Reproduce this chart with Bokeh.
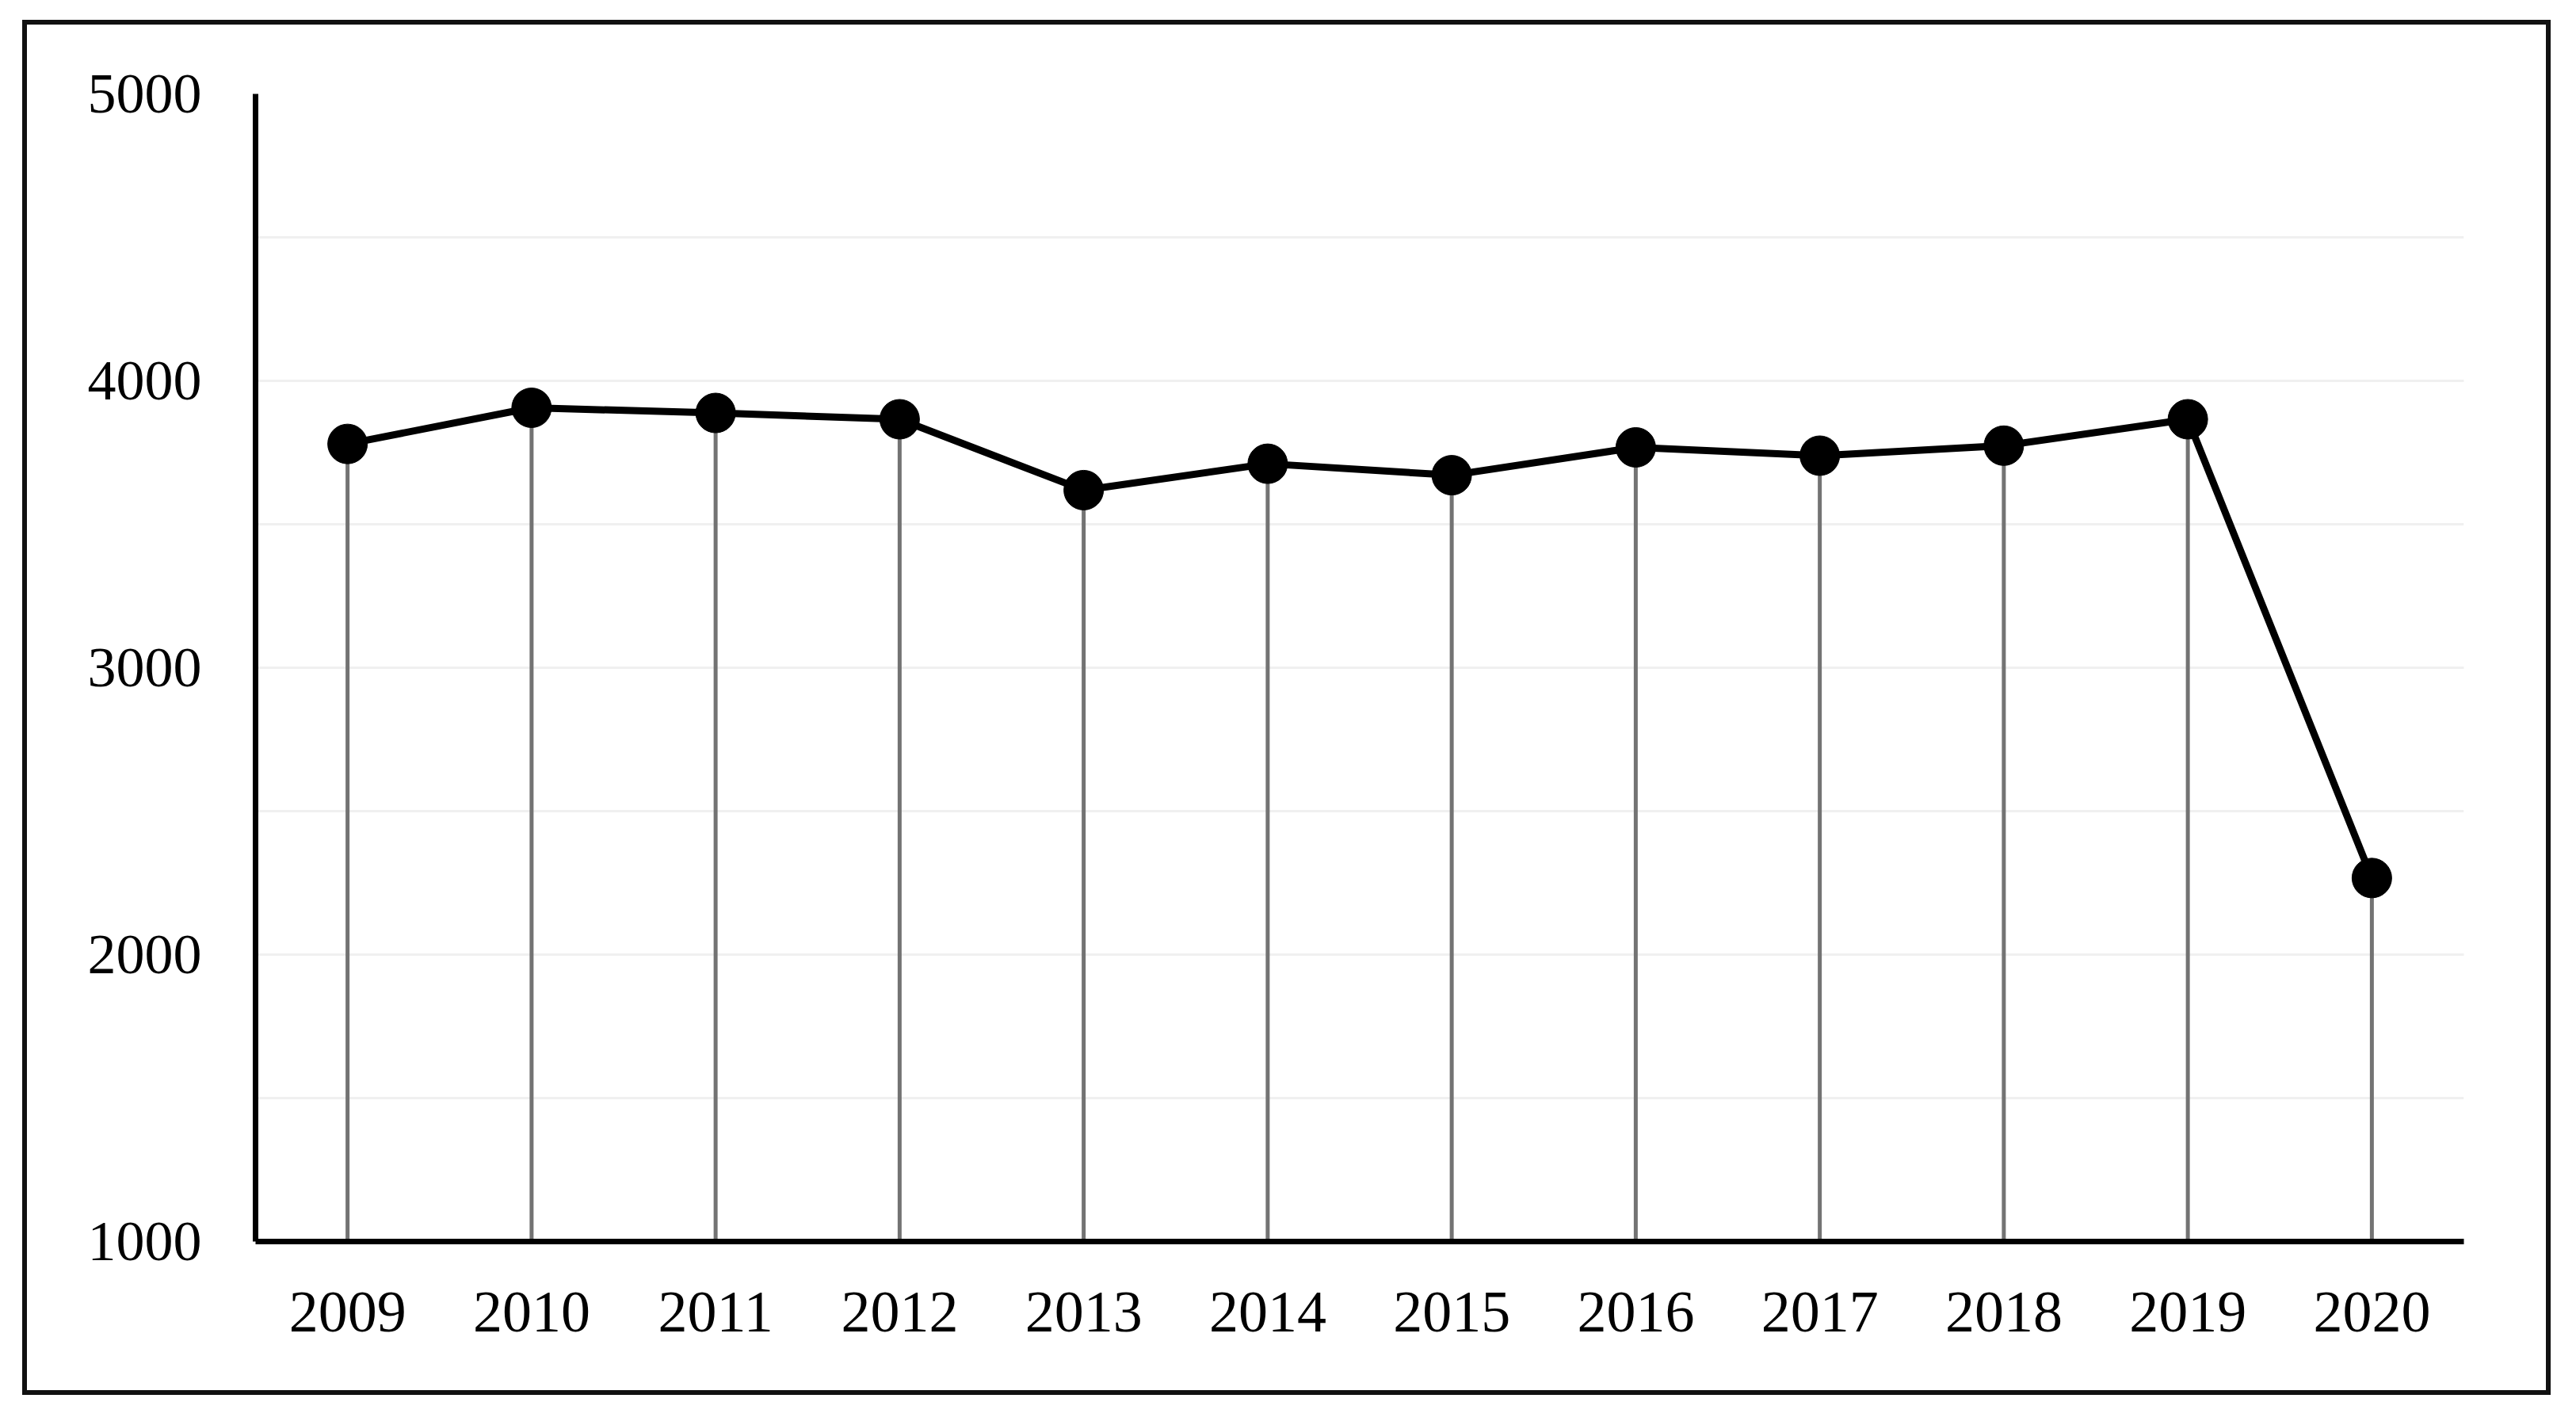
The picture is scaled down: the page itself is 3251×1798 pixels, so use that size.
from bokeh.plotting import figure
from bokeh.layouts import column
from bokeh.models import ColumnDataSource, Range1d, FactorRange, SingleIntervalTicker
from bokeh.embed import file_html
from bokeh.resources import INLINE

years = ["2009", "2010", "2011", "2012", "2013", "2014", "2015", "2016", "2017", "2018", "2019", "2020"]
values = [3780, 3906, 3888, 3866, 3619, 3711, 3671, 3768, 3739, 3774, 3866, 2267]
y_min, y_max = 1000, 5000

src = ColumnDataSource(dict(x=years, y=values, base=[y_min] * len(years)))

FONT = "Liberation Serif"

p = figure(width=3179, height=1723, x_range=FactorRange(*years, range_padding=0),
           y_range=Range1d(y_min, y_max), output_backend="svg", toolbar_location=None,
           min_border_left=288, min_border_right=104, min_border_top=87, min_border_bottom=188)
p.outline_line_color = None
p.background_fill_color = "white"
p.border_fill_color = "white"

# stems
p.segment(x0="x", y0="base", x1="x", y1="y", source=src, line_color="#737373", line_width=5)
# line + markers
p.line(x="x", y="y", source=src, line_color="black", line_width=9)
p.scatter(x="x", y="y", source=src, size=50, fill_color="black", line_color="black")

# axes
p.yaxis.ticker = SingleIntervalTicker(interval=1000, num_minor_ticks=2)
p.yaxis.major_tick_line_color = None
p.yaxis.minor_tick_line_color = None
p.yaxis.axis_line_width = 7
p.yaxis.axis_line_color = "black"
p.yaxis.major_label_text_font = FONT
p.yaxis.major_label_text_font_size = "72px"
p.yaxis.major_label_text_color = "black"
p.yaxis.major_label_standoff = 62

p.xaxis.major_tick_line_color = None
p.xaxis.minor_tick_line_color = None
p.xaxis.axis_line_width = 7
p.xaxis.axis_line_color = "black"
p.xaxis.major_label_text_font = FONT
p.xaxis.major_label_text_font_size = "74px"
p.xaxis.major_label_text_color = "black"
p.xaxis.major_label_standoff = 58
p.xaxis.group_text_font_size = "0px"

# grid
p.xgrid.grid_line_color = None
p.ygrid.grid_line_color = "#f0f0f0"
p.ygrid.grid_line_width = 3
p.ygrid.minor_grid_line_color = "#f0f0f0"
p.ygrid.minor_grid_line_width = 3

layout = column(p, styles={"border": "6px solid #111111", "margin-left": "28px", "margin-top": "25px"})

open("out.html", "w").write(file_html(layout, INLINE))
